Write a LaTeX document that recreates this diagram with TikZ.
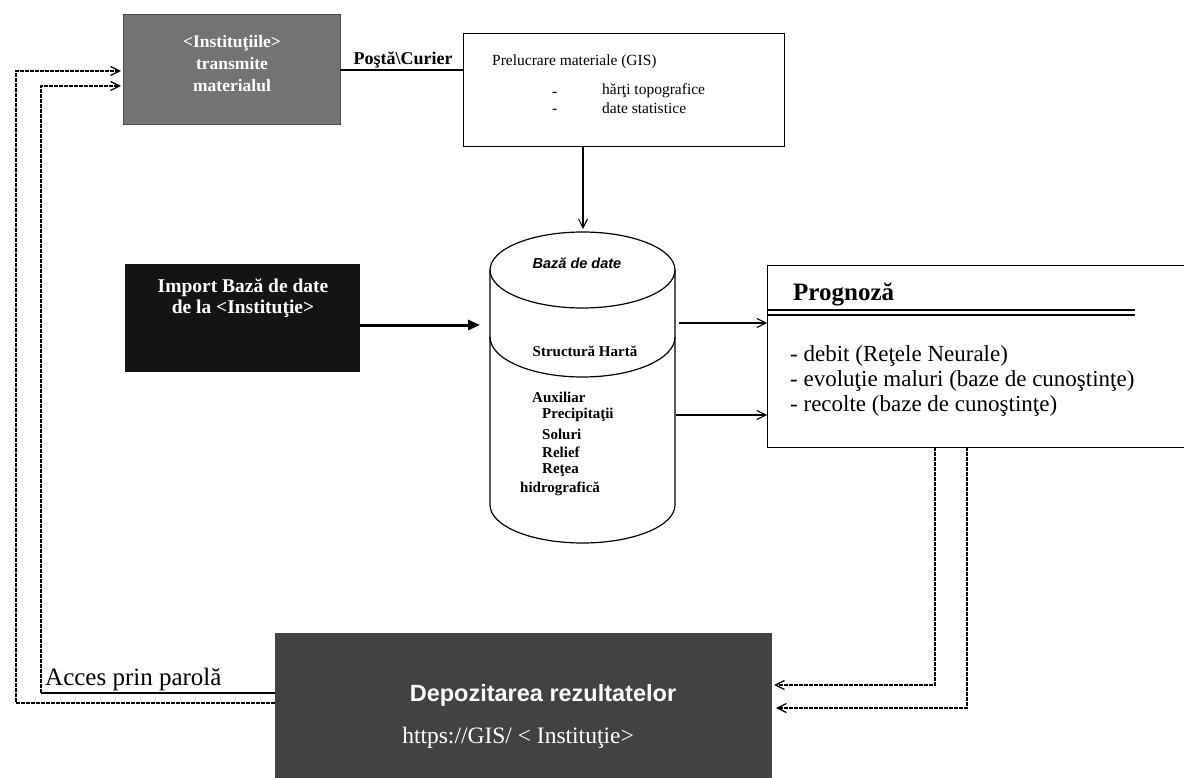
\documentclass[tikz,border=0pt]{standalone}
\usepackage{fontspec}
\setmainfont{Liberation Serif}
\newfontfamily\sansf{Liberation Sans}
\usetikzlibrary{arrows.meta}
\begin{document}
\begin{tikzpicture}[x=1pt,y=-1pt,
  boxline/.style={draw=black, line width=1.3pt},
  lbl/.style={inner sep=0pt, anchor=west},
  clbl/.style={inner sep=0pt, align=center},
  arr/.style={-{Straight Barb[length=9pt,width=9pt]}, line width=1.1pt},
  thickarr/.style={-{Triangle[length=12pt,width=10pt]}, line width=3pt},
  dsh/.style={line width=1.3pt, dash pattern=on 4pt off 1pt},
  dsharr/.style={dsh, -{Straight Barb[length=9pt,width=9pt]}},
  plainline/.style={line width=1.2pt}]
\useasboundingbox (0,0) rectangle (1184,778);
\fill[white] (0,0) rectangle (1184,778);

% Institutii box
\node[draw=black!70, fill=black!55, line width=1pt, minimum width=217pt, minimum height=110pt, anchor=north west, inner sep=0pt] (inst) at (123,14) {};
\node[clbl, text=white, font=\bfseries\fontsize{17.5}{22}\selectfont] (insttxt) at (232,64) {<Instituţiile>\\transmite\\materialul};

% Prelucrare box
\node[boxline, minimum width=321pt, minimum height=113pt, anchor=north west, inner sep=0pt] (prel) at (463,33) {};
\node[lbl, font=\fontsize{15.5}{17}\selectfont] (preltitle) at (492,62) {Prelucrare materiale (GIS)};
\node[lbl, font=\fontsize{15.5}{17}\selectfont] (d1) at (552,94) {-};
\node[lbl, font=\fontsize{15.5}{17}\selectfont] (d2) at (552,111) {-};
\node[lbl, font=\fontsize{15.5}{17}\selectfont] (i1) at (602,91) {hărţi topografice};
\node[lbl, font=\fontsize{15.5}{17}\selectfont] (i2) at (602,108) {date statistice};

% Posta line
\coordinate (pa) at (340,70);
\coordinate (pb) at (463,70);
\draw[plainline] (pa) -- (pb);
\node[inner sep=0pt, font=\bfseries\fontsize{18}{20}\selectfont] (posta) at (403,60) {Poştă\textbackslash Curier};

% Import box
\node[fill=black!92, minimum width=235pt, minimum height=108pt, anchor=north west, inner sep=0pt] (imp) at (125,264) {};
\node[clbl, text=white, font=\bfseries\fontsize{19.5}{21}\selectfont] (imptxt) at (243,298) {Import Bază de date\\de la <Instituţie>};

% Cylinder
\node[minimum width=185pt, minimum height=313pt, anchor=north west, inner sep=0pt] (cyl) at (490,232) {};
\draw[line width=1.2pt] (582.5,270) ellipse [x radius=92.5, y radius=38];
\draw[line width=1.2pt] (490,270) -- (490,505) arc[start angle=180, end angle=0, x radius=92.5, y radius=38] -- (675,270);
\draw[line width=1.2pt] (490,337) arc[start angle=180, end angle=0, x radius=92.5, y radius=40];
\node[inner sep=0pt, font=\sansf\bfseries\itshape\fontsize{14.5}{16}\selectfont] (bdd) at (577,263) {Bază de date};
\node[inner sep=0pt, font=\bfseries\fontsize{15}{17}\selectfont] (struct) at (585,351) {Structură Hartă};
\node[lbl, font=\bfseries\fontsize{15}{17}\selectfont] (aux) at (532,397) {Auxiliar};
\node[lbl, font=\bfseries\fontsize{15}{17}\selectfont] (pre) at (542,415) {Precipitaţii};
\node[lbl, font=\bfseries\fontsize{15}{17}\selectfont] (sol) at (542,434) {Soluri};
\node[lbl, font=\bfseries\fontsize{15}{17}\selectfont] (rel) at (542,452) {Relief};
\node[lbl, font=\bfseries\fontsize{15}{17}\selectfont] (ret) at (542,470) {Reţea};
\node[lbl, font=\bfseries\fontsize{15}{17}\selectfont] (hid) at (520,489) {hidrografică};

% Prognoza box
\node[boxline, minimum width=430pt, minimum height=182pt, anchor=north west, inner sep=0pt] (prog) at (767,265) {};
\node[lbl, font=\bfseries\fontsize{25}{27}\selectfont] (progt) at (793,294) {Prognoză};
\coordinate (dl1) at (767,310);
\coordinate (dl2) at (1135,310);
\coordinate (dl3) at (767,315);
\coordinate (dl4) at (1135,315);
\draw[line width=1.3pt] (dl1) -- (dl2);
\draw[line width=1.3pt] (dl3) -- (dl4);
\node[lbl, font=\fontsize{23}{25}\selectfont] (pg1) at (790,356) {- debit (Reţele Neurale)};
\node[lbl, font=\fontsize{23}{25}\selectfont] (pg2) at (790,381) {- evoluţie maluri (baze de cunoştinţe)};
\node[lbl, font=\fontsize{23}{25}\selectfont] (pg3) at (790,406) {- recolte (baze de cunoştinţe)};

% Depozitare box
\node[fill=black!74, minimum width=497pt, minimum height=160pt, anchor=north west, inner sep=0pt] (dep) at (275,633) {};
\node[inner sep=0pt, text=white, font=\sansf\bfseries\fontsize{23.5}{26}\selectfont] (deptxt) at (543,695) {Depozitarea rezultatelor};
\node[inner sep=0pt, text=white, font=\fontsize{23.5}{26}\selectfont] (depurl) at (518,738) {https://GIS/ < Instituţie>};

% Acces label
\node[lbl, font=\fontsize{25}{27}\selectfont] (acces) at (45,679) {Acces prin parolă};

% arrows: Prelucrare -> DB
\coordinate (pbot) at (583,146);
\coordinate (ctop) at (583,229);
\draw[arr] (pbot) -- (ctop);

% Import -> DB
\coordinate (ia) at (360,325);
\coordinate (ib) at (480,325);
\draw[thickarr] (ia) -- (ib);

% DB -> Prognoza
\coordinate (c1) at (679,323);
\coordinate (c2) at (676,415);
\draw[arr] (c1) -- (c1 -| prog.west);
\draw[arr] (c2) -- (c2 -| prog.west);

% Prognoza -> Depozitare (dashed)
\coordinate (q1) at (935,447);
\coordinate (q1b) at (935,685);
\coordinate (q1c) at (774,685);
\coordinate (q2) at (967,447);
\coordinate (q2b) at (967,708);
\coordinate (q2c) at (776,708);
\draw[dsharr] (q1) -- (q1b) -- (q1c);
\draw[dsharr] (q2) -- (q2b) -- (q2c);

% Depozitare -> Institutii (left loops)
\coordinate (l1) at (275,703);
\coordinate (l1b) at (16,703);
\coordinate (l1c) at (16,71);
\coordinate (l1d) at (121,71);
\draw[dsharr] (l1) -- (l1b) -- (l1c) -- (l1d);
\coordinate (l2) at (275,693);
\coordinate (l2b) at (41,693);
\coordinate (l2c) at (41,86);
\coordinate (l2d) at (121,86);
\draw[plainline] (l2) -- (l2b);
\draw[dsharr] (l2b) -- (l2c) -- (l2d);
\end{tikzpicture}
\end{document}
